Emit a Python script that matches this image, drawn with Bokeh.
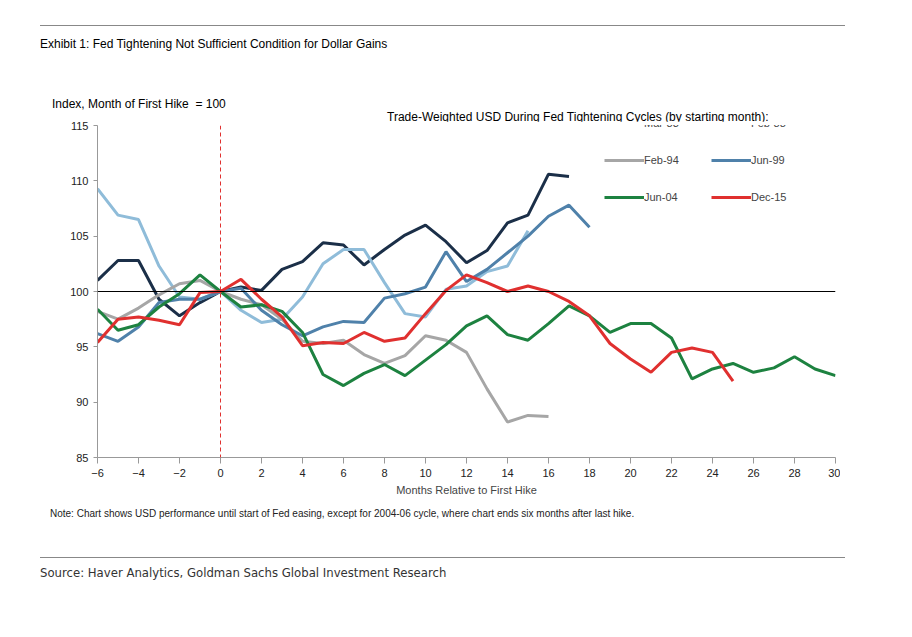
from bokeh.plotting import figure
from bokeh.models import Div, Span, Legend, LegendItem, FixedTicker
from bokeh.layouts import column
from bokeh.embed import file_html
from bokeh.resources import INLINE

mar83 = [101, 102.8, 102.8, 99.3, 97.8, 99, 100, 100.4, 100.1, 102, 102.7, 104.4, 104.2, 102.4, 103.8, 105.1, 106, 104.5, 102.6, 103.7, 106.2, 106.9, 110.6, 110.4]
feb88 = [109.3, 106.9, 106.5, 102.3, 99.5, 99.3, 100, 98.3, 97.2, 97.5, 99.5, 102.5, 103.8, 103.8, 100.8, 98, 97.7, 100.2, 100.5, 101.8, 102.3, 105.5]
feb94 = [98.2, 97.5, 98.5, 99.7, 100.7, 101, 100, 99.3, 98.8, 97.5, 95.5, 95.3, 95.6, 94.3, 93.5, 94.2, 96, 95.6, 94.5, 91.2, 88.2, 88.8, 88.7]
jun99 = [96.2, 95.5, 96.8, 99, 99.3, 99.3, 100, 100.3, 98.3, 97, 96, 96.8, 97.3, 97.2, 99.4, 99.8, 100.4, 103.6, 100.9, 102, 103.5, 105, 106.8, 107.8, 105.8]
jun04 = [98.4, 96.5, 97, 98.6, 99.8, 101.5, 100, 98.6, 98.8, 98.2, 96.3, 92.5, 91.5, 92.6, 93.4, 92.4, 93.8, 95.2, 96.9, 97.8, 96.1, 95.6, 97.1, 98.7, 97.8, 96.3, 97.1, 97.1, 95.8, 92.1, 93, 93.5, 92.7, 93.1, 94.1, 93, 92.4]
dec15 = [95.4, 97.5, 97.7, 97.4, 97, 99.9, 100, 101.1, 99.3, 97.7, 95.1, 95.4, 95.3, 96.3, 95.5, 95.8, 98, 100.1, 101.5, 100.8, 100, 100.5, 100, 99.1, 97.8, 95.3, 93.9, 92.7, 94.5, 94.9, 94.5, 91.9]
series = [("Mar-83", mar83, "#1b2f48"), ("Feb-88", feb88, "#8fbcd9"),
          ("Feb-94", feb94, "#a6a6a6"), ("Jun-99", jun99, "#4f81aa"),
          ("Jun-04", jun04, "#1d8240"), ("Dec-15", dec15, "#e0302f")]

COND = "'DejaVu Sans Condensed', 'Liberation Sans Narrow', sans-serif"
SANS = "Arial, 'Liberation Sans', sans-serif"
title_html = (
    "<div style='position:relative;width:805px;height:95px'>"
    f"<div style='position:absolute;left:0;top:10px;font-family:{COND};font-stretch:condensed;font-weight:bold;font-size:16px;color:#222'>"
    "Exhibit 1: Fed Tightening Not Sufficient Condition for Dollar Gains</div>"
    f"<div style='position:absolute;left:12px;top:70px;font-family:{SANS};font-size:11px;color:#222'>Index, Month of First Hike&nbsp; = 100</div>"
    f"<div style='position:absolute;left:347px;top:83px;font-family:{SANS};font-size:11px;color:#222'>Trade-Weighted USD During Fed Tightening Cycles (by starting month):</div>"
    "</div>")
title = Div(text=title_html, width=805, height=96, margin=(0, 0, 0, 40),
            styles={"border-top": "1px solid #888", "box-sizing": "border-box"})

p = figure(width=840, height=381, x_range=(-6, 30), y_range=(85, 115),
           output_backend="svg", toolbar_location=None,
           min_border_left=49, min_border_top=4, min_border_right=5, min_border_bottom=45,
           frame_width=738, frame_height=332, margin=(0, 0, 0, 48))
p.outline_line_color = None
p.xgrid.grid_line_color = None
p.ygrid.grid_line_color = None
for ax in (p.xaxis, p.yaxis):
    ax.axis_line_color = "#999"
    ax.major_tick_line_color = "#999"
    ax.minor_tick_line_color = None
    ax.major_label_text_font = SANS
    ax.major_label_text_font_size = "11px"
    ax.major_label_text_color = "#222"
p.xaxis.ticker = FixedTicker(ticks=list(range(-6, 31, 2)))
p.yaxis.ticker = FixedTicker(ticks=list(range(85, 116, 5)))
p.xaxis.major_tick_in = 0
p.xaxis.major_tick_out = 6
p.yaxis.major_tick_in = 0
p.yaxis.major_tick_out = 4
p.xaxis.axis_label = "Months Relative to First Hike"
p.xaxis.axis_label_text_font = SANS
p.xaxis.axis_label_text_font_style = "normal"
p.xaxis.axis_label_text_font_size = "11px"
p.xaxis.axis_label_standoff = 4

p.add_layout(Span(location=100, dimension="width", line_color="black", line_width=1))
p.add_layout(Span(location=0, dimension="height", line_color="#e0302f", line_width=1, line_dash="4 3"))

items = {}
for name, ys, col in series:
    xs = list(range(-6, -6 + len(ys)))
    r = p.line(xs, ys, line_color=col, line_width=3)
    items[name] = LegendItem(label=name, renderers=[r])
order = ["Mar-83", "Feb-94", "Jun-04", "Feb-88", "Jun-99", "Dec-15"]
leg = Legend(items=[items[k] for k in order], ncols=2, location=(507, 250), background_fill_alpha=0,
             border_line_color=None, label_text_font=SANS,
             label_text_font_size="11px", glyph_width=40, label_standoff=0,
             spacing=17, label_width=50, padding=0, margin=0)
p.add_layout(leg)

note = Div(text="Note: Chart shows USD performance until start of Fed easing, except for 2004-06 cycle, where chart ends six months after last hike.",
           width=805, height=40, margin=(0, 0, 0, 50),
           styles={"font-family": SANS, "font-size": "10px", "color": "#222", "padding-top": "5px"})
src = Div(text="Source: Haver Analytics, Goldman Sachs Global Investment Research",
          width=805, height=40, margin=(15, 0, 0, 40),
          styles={"border-top": "1px solid #888", "font-family": COND, "font-stretch": "condensed",
                  "font-size": "13px", "color": "#333", "padding-top": "6px", "box-sizing": "border-box"})

layout = column(Div(text="", height=25, margin=0), title, p, note, src, spacing=0)
open("out.html", "w").write(file_html(layout, INLINE))
